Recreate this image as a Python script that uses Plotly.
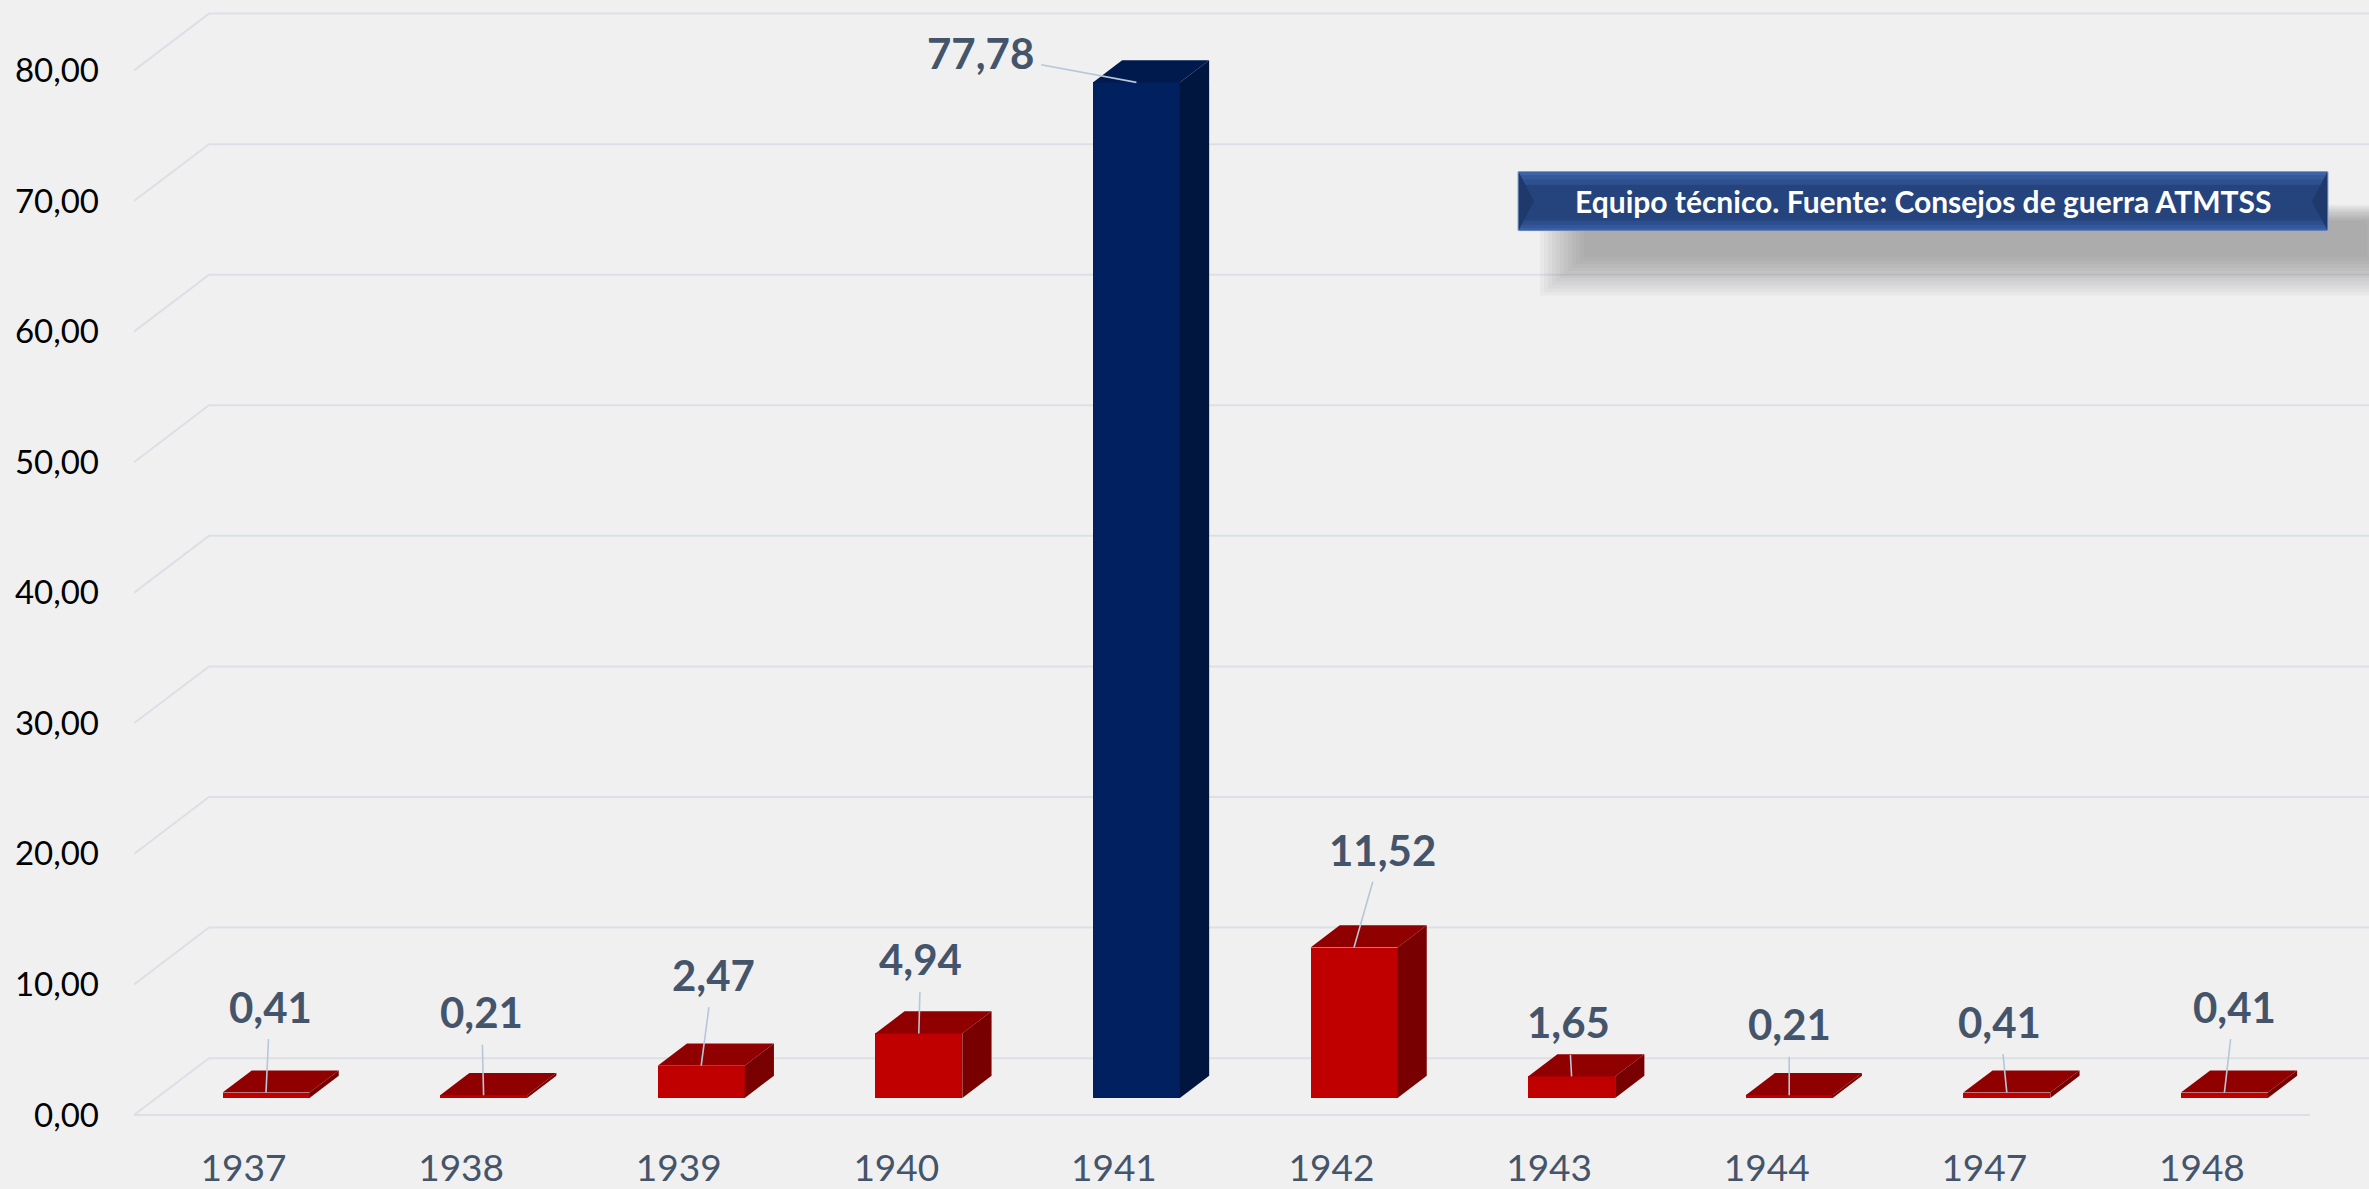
import plotly.graph_objects as go

# ---------------- data ----------------
years = ["1937", "1938", "1939", "1940", "1941", "1942", "1943", "1944", "1947", "1948"]
values = [0.41, 0.21, 2.47, 4.94, 77.78, 11.52, 1.65, 0.21, 0.41, 0.41]
y_ticks = [0, 10, 20, 30, 40, 50, 60, 70, 80]
source_text = "Equipo técnico. Fuente: Consejos de guerra ATMTSS"

# label offsets (pixels) for the data-label leader lines
label_dx = [4, -2, 12, 2, -156, 28, -3, 0, -7, 10]
label_dy = [-86, -83, -91, -74, -29, -98, -54, -71, -71, -86]

def fmt(v):
    return f"{v:.2f}".replace(".", ",")

# ---------------- geometry ----------------
W, H = 2369, 1189
L, R, T, B = 134, 2369, 0, 1132          # plot area in pixels
X0, XSTEP = 243.5, 217.6                 # category 0 on front plane, px per category
Y0, YS = 1117, 13.08                     # value 0 on front plane, px per unit
xr = [(L - X0) / XSTEP, (R - X0) / XSTEP]
yr = [(Y0 - B) / YS, (Y0 - T) / YS]
DX = 75 / XSTEP                          # full depth of the 3D box
DY = 57 / YS
F0, F1 = 0.30, 0.69                      # bar depth fractions
BW = 87 / XSTEP                          # bar width

BG = "#F0F0F0"
GRID = "#DCDFE6"
LABEL = "#44546A"

def pxx(px):
    return (px - L) / (R - L)

def pxy(py):
    return (B - py) / (B - T)

vmax = max(values)
front_cols = ["#002060" if v == vmax else "#C00000" for v in values]
top_cols = ["#001A4D" if v == vmax else "#900000" for v in values]
side_cols = ["#00163F" if v == vmax else "#780000" for v in values]

fig = go.Figure()

xs = list(range(len(years)))
# front faces
fig.add_trace(go.Bar(
    x=[i + F0 * DX for i in xs], y=values, base=[F0 * DY] * len(values),
    width=BW, marker=dict(color=front_cols, line=dict(width=0)),
    showlegend=False, hoverinfo="skip"))

# top and side faces
for i, v in zip(xs, values):
    xl = i + F0 * DX - BW / 2
    xrr = i + F0 * DX + BW / 2
    yb = F0 * DY
    yt = v + F0 * DY
    ddx = (F1 - F0) * DX
    ddy = (F1 - F0) * DY
    fig.add_trace(go.Scatter(
        x=[xl, xrr, xrr + ddx, xl + ddx, xl],
        y=[yt, yt, yt + ddy, yt + ddy, yt],
        fill="toself", fillcolor=top_cols[i], mode="lines",
        line=dict(width=0, color=top_cols[i]), showlegend=False, hoverinfo="skip"))
    fig.add_trace(go.Scatter(
        x=[xrr, xrr + ddx, xrr + ddx, xrr, xrr],
        y=[yb, yb + ddy, yt + ddy, yt, yb],
        fill="toself", fillcolor=side_cols[i], mode="lines",
        line=dict(width=0, color=side_cols[i]), showlegend=False, hoverinfo="skip"))

shapes = []
# gridlines: left wall diagonal + back wall horizontal
for v in y_ticks:
    shapes.append(dict(
        type="path", xref="x", yref="y", layer="below",
        path=f"M {xr[0]},{v} L {xr[0] + DX},{v + DY} L {xr[1] + 1},{v + DY}",
        line=dict(color=GRID, width=2)))
# floor front edge
shapes.append(dict(type="line", xref="x", yref="y", layer="below",
                   x0=xr[0], y0=0, x1=(2310 - X0) / XSTEP, y1=0,
                   line=dict(color=GRID, width=2)))

# source box shadow (soft, layered)
for k in range(12):
    shapes.append(dict(type="rect", xref="paper", yref="paper", layer="above",
                       x0=pxx(1540 + 4 * k), x1=pxx(2400 - 3 * k),
                       y0=pxy(296 - 3.5 * k), y1=pxy(205 + 1.5 * k),
                       fillcolor="#6A6A6A", opacity=0.055, line=dict(width=0)))
# source box body with simple vertical gradient
bx0, bx1, by0, by1 = 1518, 2328, 172, 231
shapes.append(dict(type="rect", xref="paper", yref="paper", layer="above",
                   x0=pxx(bx0), x1=pxx(bx1), y0=pxy(by1), y1=pxy(by0),
                   fillcolor="#25437C", line=dict(color="#8FA8D0", width=1)))
bands = [(172, 176, "#3D64A8"), (176, 180, "#355A9C"), (180, 185, "#2E508F"),
         (221, 225, "#2D4E8C"), (225, 228, "#33579A"), (228, 231, "#3A60A4")]
for a, b_, c in bands:
    shapes.append(dict(type="rect", xref="paper", yref="paper", layer="above",
                       x0=pxx(bx0 + 1), x1=pxx(bx1 - 1), y0=pxy(b_), y1=pxy(a),
                       fillcolor=c, line=dict(width=0)))
# bevel triangles at the ends
shapes.append(dict(type="path", xref="paper", yref="paper", layer="above",
                   path=f"M {pxx(bx0+1)},{pxy(by0+1)} L {pxx(bx0+16)},{pxy(201.5)} L {pxx(bx0+1)},{pxy(by1-1)} Z",
                   fillcolor="#20396C", line=dict(width=0)))
shapes.append(dict(type="path", xref="paper", yref="paper", layer="above",
                   path=f"M {pxx(bx1-1)},{pxy(by0+1)} L {pxx(bx1-16)},{pxy(201.5)} L {pxx(bx1-1)},{pxy(by1-1)} Z",
                   fillcolor="#20396C", line=dict(width=0)))

annotations = []
for i, v in zip(xs, values):
    annotations.append(dict(
        x=i + F0 * DX, y=v + F0 * DY, xref="x", yref="y",
        text=f"<b>{fmt(v)}</b>", showarrow=True, arrowhead=0, arrowwidth=1.6,
        arrowcolor="#B7C6D9", ax=label_dx[i], ay=label_dy[i],
        startstandoff=6, standoff=0,
        font=dict(family="Lato", size=42, color=LABEL)))
annotations.append(dict(
    x=pxx((bx0 + bx1) / 2), y=pxy((by0 + by1) / 2), xref="paper", yref="paper",
    text=f"<b>{source_text}</b>", showarrow=False,
    font=dict(family="Lato", size=30, color="white"),
    xanchor="center", yanchor="middle"))

fig.update_layout(
    width=W, height=H,
    margin=dict(l=L, r=W - R, t=T, b=H - B),
    paper_bgcolor=BG, plot_bgcolor=BG,
    bargap=0, showlegend=False,
    shapes=shapes, annotations=annotations,
    font=dict(family="Lato"),
)
fig.update_xaxes(range=xr, tickvals=xs, ticktext=years, showgrid=False, zeroline=False,
                 showline=False, ticks="", tickfont=dict(family="Lato", size=37, color=LABEL),
                 ticklabelstandoff=13)
fig.update_yaxes(range=yr, tickvals=y_ticks, ticktext=[fmt(v) for v in y_ticks],
                 showgrid=False, zeroline=False, showline=False, ticks="",
                 tickfont=dict(family="Lato", size=33, color="black"),
                 ticklabelstandoff=34)

fig.write_html("out.html",
               config={"displayModeBar": False},
               post_script="document.body.style.margin='0px';"
                           "document.body.style.background='#F0F0F0';")
